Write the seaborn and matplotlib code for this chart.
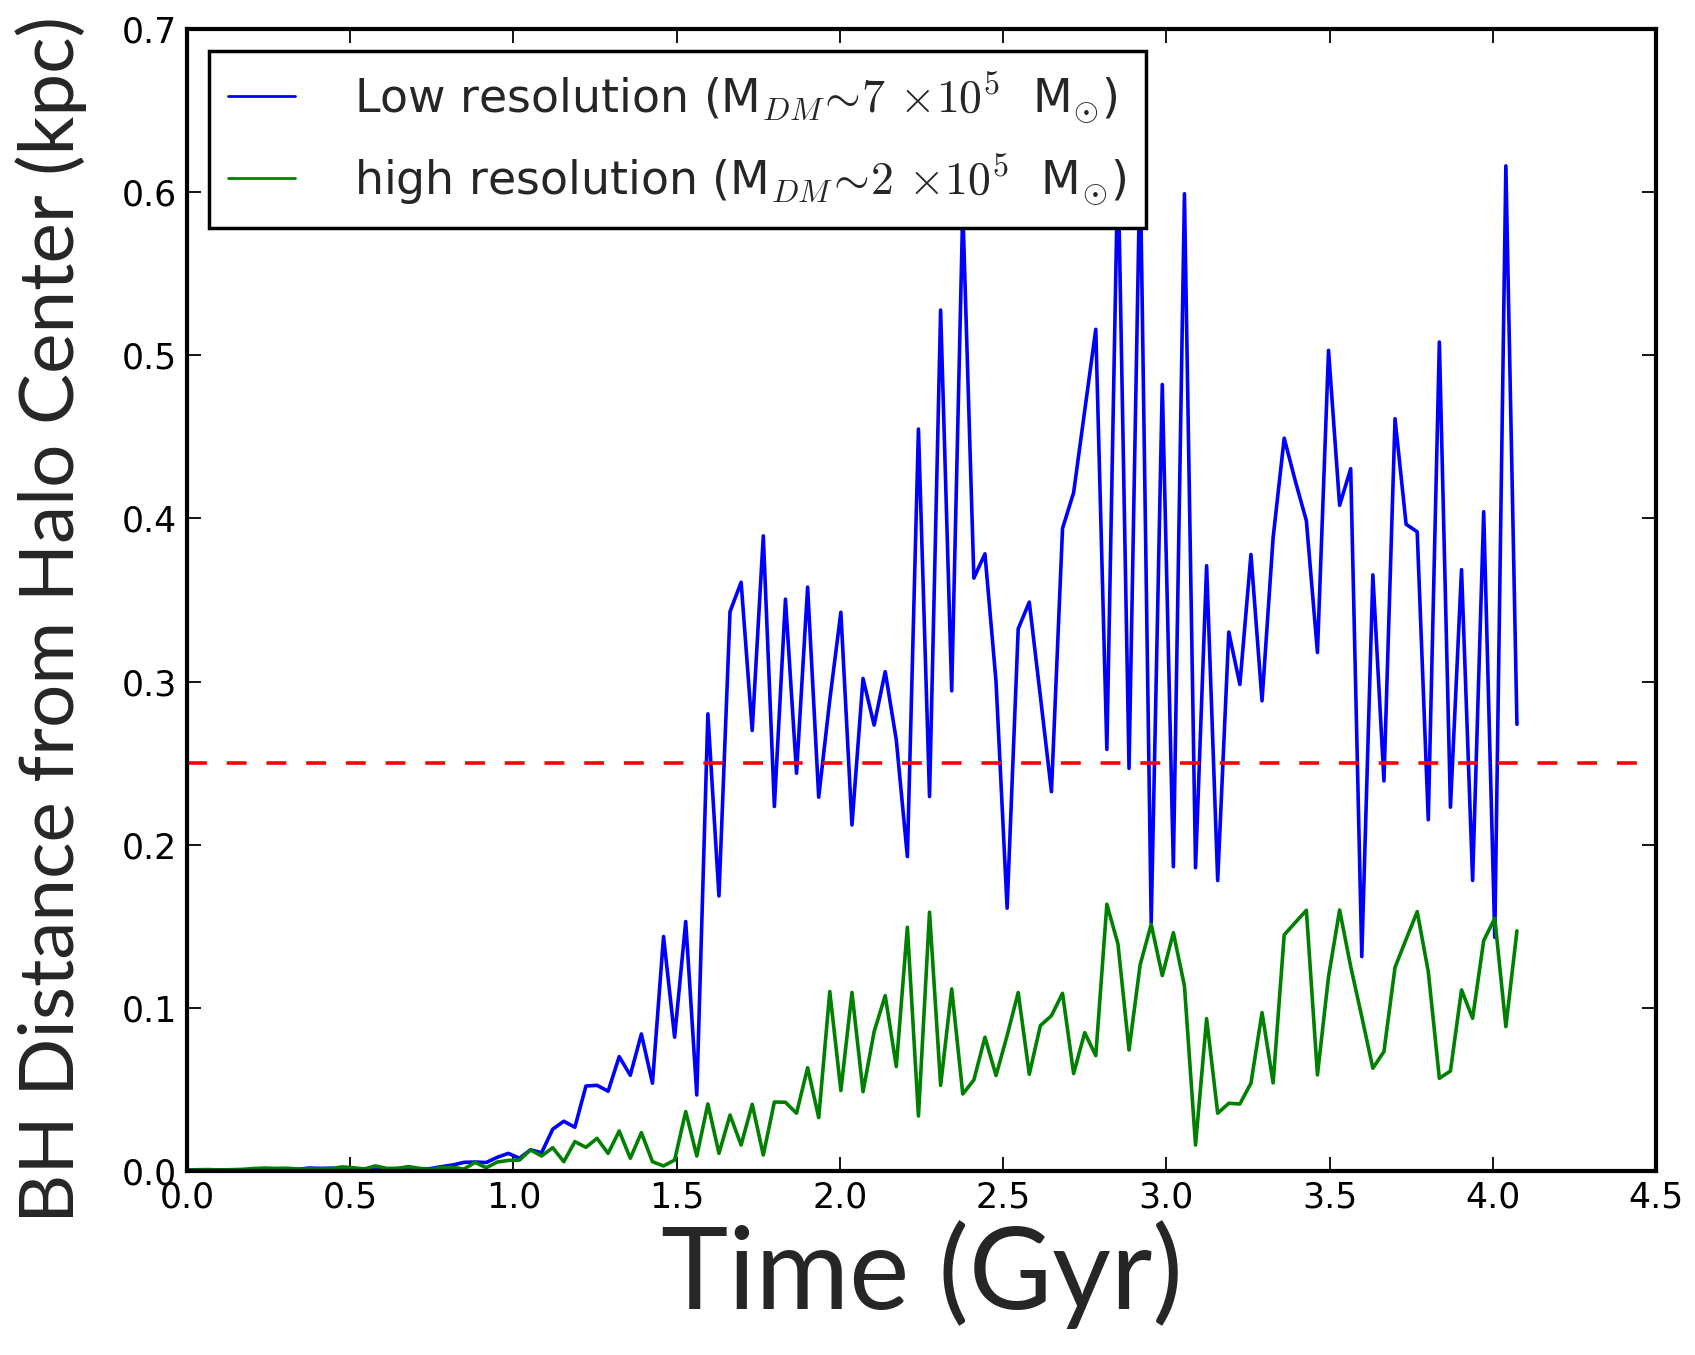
import numpy as np
import pandas as pd
import matplotlib
matplotlib.use("Agg")
import matplotlib.pyplot as plt
import seaborn as sns

# ---------------- data ----------------
time_gyr = np.linspace(0.0, 4.074, 121)   # simulation output times (Gyr)

low_res = [
    0.0005, 0.0008, 0.0008, 0.0006, 0.0007, 0.0006, 0.0009, 0.0008, 0.0007, 0.0008,
    0.0010, 0.0018, 0.0016, 0.0017, 0.0012, 0.0011, 0.0012, 0.0010, 0.0011, 0.0015,
    0.0012, 0.0009, 0.0015, 0.0027, 0.0037, 0.0053, 0.0055, 0.0052, 0.0084, 0.0108,
    0.0078, 0.0130, 0.0112, 0.0256, 0.0305, 0.0268, 0.0521, 0.0525, 0.0489, 0.0701,
    0.0587, 0.0840, 0.0538, 0.1437, 0.0820, 0.1529, 0.0466, 0.2802, 0.1686, 0.3429,
    0.3609, 0.2700, 0.3893, 0.2234, 0.3505, 0.2438, 0.3579, 0.2291, 0.2888, 0.3425,
    0.2121, 0.3019, 0.2733, 0.3061, 0.2643, 0.1927, 0.4548, 0.2295, 0.5277, 0.2943,
    0.5900, 0.3634, 0.3783, 0.3000, 0.1611, 0.3323, 0.3487, 0.2910, 0.2325, 0.3939,
    0.4158, 0.4660, 0.5159, 0.2584, 0.6200, 0.2468, 0.6200, 0.1520, 0.4821, 0.1865,
    0.5990, 0.1859, 0.3710, 0.1780, 0.3304, 0.2982, 0.3779, 0.2882, 0.3882, 0.4492,
    0.4230, 0.3986, 0.3178, 0.5030, 0.4080, 0.4305, 0.1314, 0.3654, 0.2391, 0.4611,
    0.3964, 0.3918, 0.2153, 0.5081, 0.2230, 0.3686, 0.1781, 0.4041, 0.1432, 0.6161,
    0.2738,
]

high_res = [
    0.0005, 0.0007, 0.0008, 0.0007, 0.0008, 0.0010, 0.0015, 0.0018, 0.0016, 0.0017,
    0.0012, 0.0013, 0.0012, 0.0015, 0.0025, 0.0020, 0.0012, 0.0031, 0.0016, 0.0016,
    0.0027, 0.0016, 0.0010, 0.0022, 0.0022, 0.0012, 0.0053, 0.0020, 0.0055, 0.0065,
    0.0067, 0.0129, 0.0092, 0.0143, 0.0057, 0.0180, 0.0145, 0.0200, 0.0108, 0.0245,
    0.0078, 0.0235, 0.0057, 0.0031, 0.0067, 0.0364, 0.0092, 0.0411, 0.0108, 0.0343,
    0.0159, 0.0409, 0.0098, 0.0423, 0.0421, 0.0354, 0.0633, 0.0327, 0.1100, 0.0493,
    0.1094, 0.0486, 0.0854, 0.1075, 0.0640, 0.1494, 0.0337, 0.1586, 0.0525, 0.1116,
    0.0472, 0.0558, 0.0820, 0.0585, 0.0830, 0.1094, 0.0593, 0.0891, 0.0952, 0.1089,
    0.0597, 0.0848, 0.0707, 0.1635, 0.1392, 0.0742, 0.1263, 0.1512, 0.1198, 0.1461,
    0.1134, 0.0159, 0.0934, 0.0354, 0.0415, 0.0411, 0.0538, 0.0971, 0.0540, 0.1447,
    0.1523, 0.1598, 0.0589, 0.1191, 0.1600, 0.1253, 0.0946, 0.0630, 0.0732, 0.1249,
    0.1420, 0.1590, 0.1222, 0.0568, 0.0613, 0.1110, 0.0936, 0.1412, 0.1549, 0.0885,
    0.1472,
]

threshold_kpc = 0.25
x_ticks = [0.0, 0.5, 1.0, 1.5, 2.0, 2.5, 3.0, 3.5, 4.0, 4.5]
y_ticks = [0.0, 0.1, 0.2, 0.3, 0.4, 0.5, 0.6, 0.7]
label_low = r"Low resolution (M$_{DM}\!\sim\!7\,\times\!10^5$  M$_{\odot}$)"
label_high = r"high resolution (M$_{DM}\!\sim\!2\,\times\!10^5$  M$_{\odot}$)"
x_label = "Time (Gyr)"
y_label = "BH Distance from Halo Center (kpc)"

# ---------------- style ----------------
sns.set_style("ticks")
plt.rcParams["font.family"] = ["DejaVu Sans"]
plt.rcParams["mathtext.fontset"] = "cm"

fig = plt.figure(figsize=(16.95, 13.55), dpi=100)
ax = fig.add_axes([0.1103, 0.1358, 0.8667, 0.8428])

df_low = pd.DataFrame({"time": time_gyr, "dist": low_res})
df_high = pd.DataFrame({"time": time_gyr, "dist": high_res})

sns.lineplot(data=df_low, x="time", y="dist", color="#0000ff", lw=2.6,
             ax=ax, label=label_low, estimator=None, sort=False)
sns.lineplot(data=df_high, x="time", y="dist", color="#008000", lw=2.6,
             ax=ax, label=label_high, estimator=None, sort=False)
ax.axhline(threshold_kpc, color="#ff0000", lw=2.6, ls="--", dashes=(5.5, 5.5))

ax.set_xlim(0, 4.5)
ax.set_ylim(0, 0.7)
ax.set_xticks(x_ticks)
ax.set_yticks(y_ticks)
ax.set_xticklabels([f"{v:.1f}" for v in x_ticks])
ax.set_yticklabels([f"{v:.1f}" for v in y_ticks])
ax.tick_params(direction="in", length=10, width=1.3, top=True, right=True,
               labelsize=25, pad=7, colors="black")
for s in ax.spines.values():
    s.set_visible(True)
    s.set_linewidth(3)
    s.set_color("black")

ax.set_xlabel(x_label, fontsize=82, family=["Lato", "DejaVu Sans"])
ax.set_ylabel(y_label, fontsize=55, family=["Lato", "DejaVu Sans"])
ax.xaxis.set_label_coords(0.5, -0.043)
ax.yaxis.set_label_coords(-0.068, 0.4825)

leg = ax.legend(loc="upper left", bbox_to_anchor=(0.015, 0.981), borderaxespad=0,
                fontsize=33, fancybox=False, framealpha=1, edgecolor="black",
                handlelength=1.45, handletextpad=1.3, labelspacing=0.58,
                borderpad=0.42)
leg.set_zorder(10)
leg.get_frame().set_linewidth(2.5)
for h in leg.get_lines():
    h.set_linewidth(2.0)

fig.savefig("out.png", dpi=100)
